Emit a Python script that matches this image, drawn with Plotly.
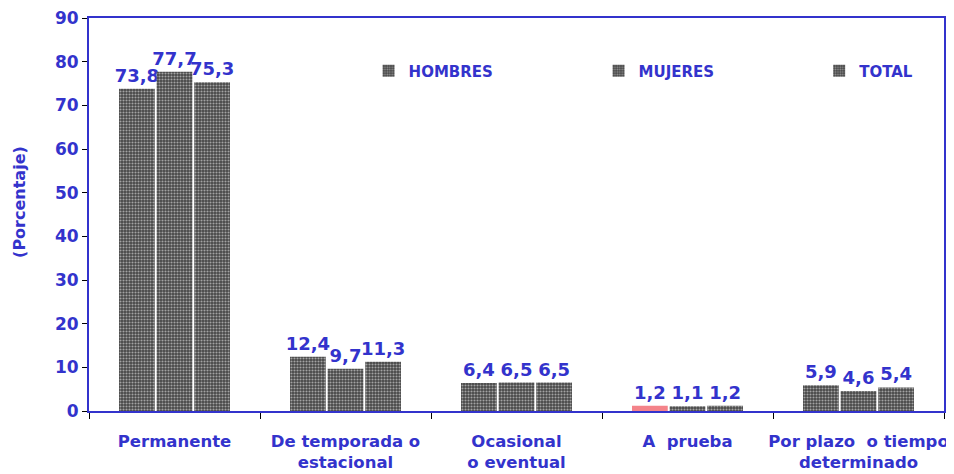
import plotly.graph_objects as go

categories = ["Permanente", "De temporada o<br>estacional", "Ocasional<br>o eventual",
              "A  prueba", "Por plazo  o tiempo<br>determinado"]
hombres = [73.8, 12.4, 6.4, 1.2, 5.9]
mujeres = [77.7, 9.7, 6.5, 1.1, 4.6]
total = [75.3, 11.3, 6.5, 1.2, 5.4]
series_names = ["HOMBRES", "MUJERES", "TOTAL"]
legend_ids = ["legend", "legend2", "legend3"]
legend_x = [0.327, 0.596, 0.854]

BLUE = "#3333cc"
FONT = "DejaVu Sans"
BAR = "#474747"
PINK = "#f4838a"

def fmt(v):
    return f"{v:.1f}".replace(".", ",")

fig = go.Figure()
for name, vals, lg in zip(series_names, [hombres, mujeres, total], legend_ids):
    if name == "HOMBRES":
        shapes = ["." if c != "A  prueba" else "" for c in categories]
        colors = [BAR if c != "A  prueba" else PINK for c in categories]
    else:
        shapes = ["."] * len(categories)
        colors = [BAR] * len(categories)
    fig.add_trace(go.Bar(
        name=name, x=categories, y=vals, legend=lg,
        text=[fmt(v) for v in vals], textposition="outside",
        textfont=dict(family=FONT, size=18, color=BLUE, weight="bold"),
        constraintext="none", cliponaxis=False,
        marker=dict(color=colors,
                    line=dict(width=0),
                    pattern=dict(shape=shapes, fgcolor="#e6e6e6", bgcolor=colors,
                                 size=3, solidity=0.4, fillmode="overlay")),
    ))

legend_common = dict(orientation="h", y=0.865, xanchor="left", yanchor="middle",
                     font=dict(family=FONT, size=15, color=BLUE, weight="bold"),
                     bgcolor="rgba(0,0,0,0)", itemwidth=30)

fig.update_layout(
    width=946, height=466,
    margin=dict(l=81, r=10, t=10, b=63, autoexpand=False),
    paper_bgcolor="white", plot_bgcolor="white",
    barmode="group", bargap=0.34, bargroupgap=0.05,
    font=dict(family=FONT, color=BLUE),
    showlegend=True,
    legend=dict(x=legend_x[0], **legend_common),
    legend2=dict(x=legend_x[1], **legend_common),
    legend3=dict(x=legend_x[2], **legend_common),
    annotations=[dict(text="(Porcentaje)", xref="paper", yref="paper", x=-0.0807, y=0.532,
                      xanchor="center", yanchor="middle", textangle=-90, showarrow=False,
                      font=dict(family=FONT, size=16, color=BLUE, weight="bold"))],
)
fig.update_yaxes(
    range=[0, 90], dtick=10, showgrid=False, zeroline=False, automargin=False,
    showline=True, linecolor=BLUE, linewidth=2, mirror=True,
    ticks="outside", ticklen=5, tickcolor="black", ticklabeloverflow="allow",
    tickfont=dict(family=FONT, size=17, color=BLUE, weight="bold"),
)
fig.update_xaxes(
    showgrid=False, showline=True, linecolor=BLUE, linewidth=2, mirror=True,
    ticks="outside", tickson="boundaries", ticklen=6, tickcolor="black",
    tickangle=0, automargin=False, ticklabeloverflow="allow",
    tickfont=dict(family=FONT, size=16.5, color=BLUE, weight="bold"),
    ticklabelstandoff=14,
)
fig.write_html("out.html")
